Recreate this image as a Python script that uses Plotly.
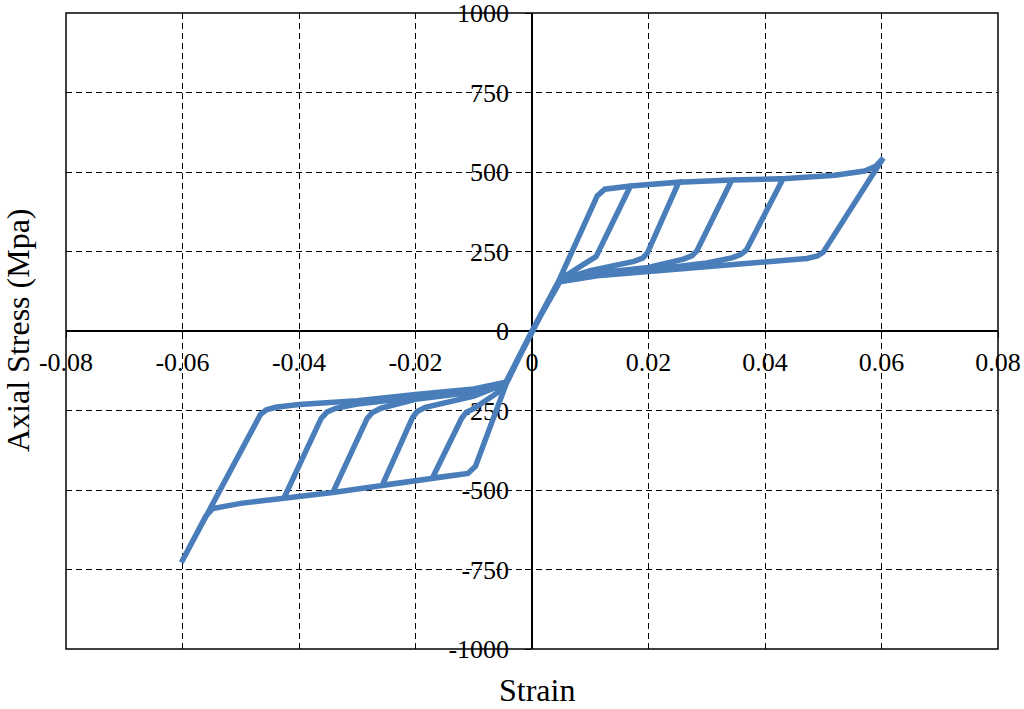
import plotly.graph_objects as go

# ---- data (strain, axial stress in MPa) ----
c1_strain = [0, 0.0046, 0.0112, 0.0125, 0.0169, 0.0117, 0.0110, 0.0096, 0.0048, 0,
             -0.0043, -0.0097, -0.0110, -0.0171, -0.0121, -0.0113, -0.0100, -0.0060, -0.0043, 0]
c1_stress = [0, 158, 425, 446, 456, 255, 234, 218, 162, 0,
             -160, -425, -448, -462, -275, -256, -244, -195, -162, 0]

c2_strain = [0, 0.0046, 0.0112, 0.0125, 0.0169, 0.0252, 0.0198, 0.0190, 0.0175, 0.0100, 0.0048, 0,
             -0.0043, -0.0097, -0.0110, -0.0171, -0.0257, -0.0205, -0.0197, -0.0183, -0.0100, -0.0046, 0]
c2_stress = [0, 158, 425, 446, 456, 468, 245, 229, 219, 190, 160, 0,
             -160, -425, -448, -464, -485, -272, -253, -240, -205, -166, 0]

c3_strain = [0, 0.0046, 0.0112, 0.0125, 0.0169, 0.0252, 0.0343, 0.0283, 0.0275, 0.0260, 0.0200, 0.0100, 0.0048, 0,
             -0.0043, -0.0097, -0.0110, -0.0171, -0.0257, -0.0342, -0.0283, -0.0274, -0.0258, -0.0200, -0.0100, -0.0046, 0]
c3_stress = [0, 158, 425, 446, 456, 468, 475, 252, 237, 226, 200, 180, 158, 0,
             -160, -425, -448, -464, -485, -508, -275, -256, -242, -215, -192, -165, 0]

c4_strain = [0, 0.0046, 0.0112, 0.0125, 0.0169, 0.0252, 0.0343, 0.0431, 0.0368, 0.0358, 0.0343, 0.0300, 0.0200, 0.0100, 0.0048, 0,
             -0.0043, -0.0097, -0.0110, -0.0171, -0.0257, -0.0342, -0.0426, -0.0362, -0.0352, -0.0337, -0.0300, -0.0200, -0.0100, -0.0045, 0]
c4_stress = [0, 158, 425, 446, 456, 468, 475, 479, 255, 240, 230, 214, 192, 176, 157, 0,
             -160, -425, -448, -464, -485, -508, -526, -275, -255, -243, -230, -208, -188, -163, 0]

c5_strain = [0, 0.0046, 0.0112, 0.0125, 0.0169, 0.0252, 0.0343, 0.0431, 0.0520, 0.0571, 0.0590, 0.0603,
             0.0500, 0.0490, 0.0472, 0.0400, 0.0300, 0.0200, 0.0112, 0.0048, 0,
             -0.0043, -0.0097, -0.0110, -0.0171, -0.0257, -0.0342, -0.0426, -0.0500, -0.0548, -0.0560, -0.0602,
             -0.0466, -0.0456, -0.0440, -0.0400, -0.0300, -0.0200, -0.0100, -0.0043, 0]
c5_stress = [0, 158, 425, 446, 456, 468, 475, 479, 490, 503, 518, 544,
             248, 236, 228, 218, 204, 186, 174, 155, 0,
             -160, -425, -448, -464, -485, -508, -526, -542, -558, -582, -728,
             -262, -248, -240, -231, -219, -200, -182, -160, 0]

x_tick_vals = [-0.08, -0.06, -0.04, -0.02, 0, 0.02, 0.04, 0.06, 0.08]
x_tick_text = ["-0.08", "-0.06", "-0.04", "-0.02", "0", "0.02", "0.04", "0.06", "0.08"]
y_tick_vals = [-1000, -750, -500, -250, 0, 250, 500, 750, 1000]
y_tick_text = ["-1000", "-750", "-500", "-250", "0", "250", "500", "750", "1000"]

x_title = "Strain"
y_title = "Axial Stress (Mpa)"

strain = c1_strain + c2_strain + c3_strain + c4_strain + c5_strain
stress = c1_stress + c2_stress + c3_stress + c4_stress + c5_stress

FONT = "Liberation Serif, Times New Roman, serif"
BLUE = "#4A7EBB"

fig = go.Figure()
fig.add_trace(go.Scatter(x=strain, y=stress, mode="lines",
                         line=dict(color=BLUE, width=5.5),
                         hoverinfo="skip", showlegend=False))

grid_common = dict(showgrid=True, gridcolor="black", gridwidth=1.3, griddash="6px,4px",
                   zeroline=False, showline=True, linecolor="black", linewidth=1.5,
                   ticks="outside", ticklen=6, tickcolor="black", tickwidth=1.3,
                   tickfont=dict(family=FONT, size=26, color="black"),
                   ticklabeloverflow="allow", automargin=False,
                   anchor="free", position=0.5, layer="below traces", fixedrange=True)

fig.update_layout(
    width=1024, height=709,
    margin=dict(l=66, r=26, t=13, b=60, autoexpand=False),
    paper_bgcolor="white", plot_bgcolor="white",
    font=dict(family=FONT, color="black"),
    xaxis=dict(range=[-0.08, 0.08], tickvals=x_tick_vals, ticktext=x_tick_text,
               ticklabelstandoff=2, **grid_common),
    yaxis=dict(range=[-1000, 1000], tickvals=y_tick_vals, ticktext=y_tick_text,
               ticklabelstandoff=11, **grid_common),
    shapes=[dict(type="rect", xref="paper", yref="paper", x0=0, x1=1, y0=0, y1=1,
                 line=dict(color="black", width=1.5), layer="below")],
    annotations=[
        dict(text=x_title, xref="paper", yref="paper", x=0.505, y=-0.0645,
             xanchor="center", yanchor="middle", showarrow=False,
             font=dict(family=FONT, size=32, color="black")),
        dict(text=y_title, xref="paper", yref="paper", x=-0.0515, y=0.5016,
             xanchor="center", yanchor="middle", showarrow=False, textangle=-90,
             font=dict(family=FONT, size=32, color="black")),
    ],
)

# remove the browser's default 8px body margin so the figure fills the window
fig.write_html("out.html", config={"displayModeBar": False},
               post_script="document.body.style.margin='0';")
